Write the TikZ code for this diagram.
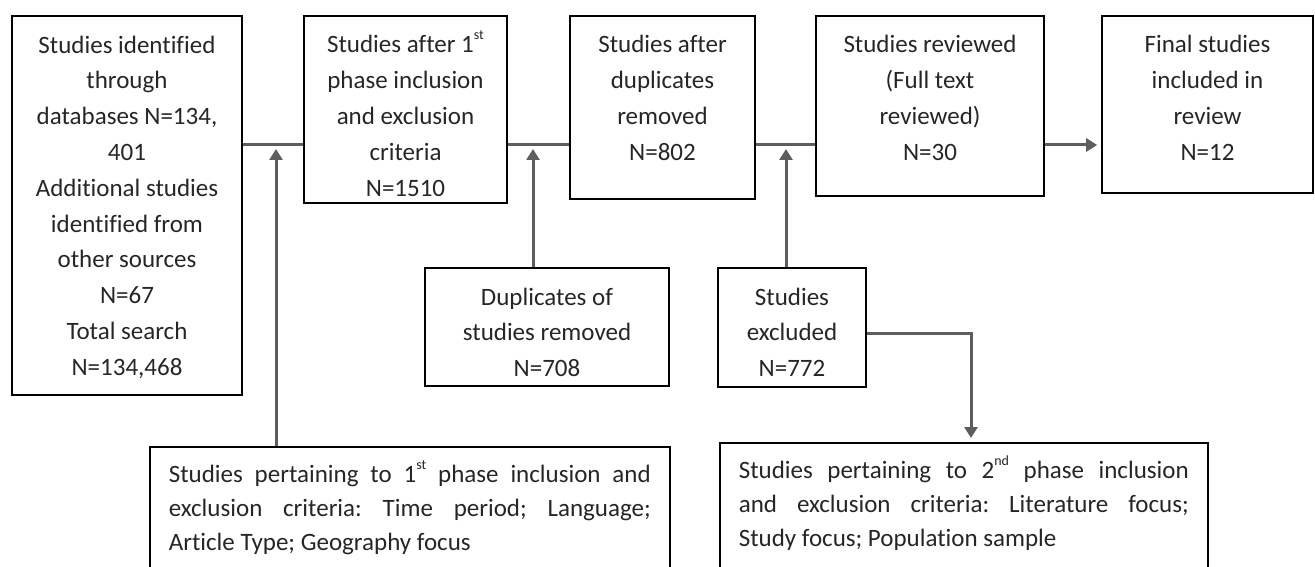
\documentclass[tikz,border=0pt]{standalone}
\usepackage{fontspec}
\setmainfont{Carlito}[Ligatures=NoCommon]
\usetikzlibrary{arrows.meta}
\frenchspacing
\definecolor{linegray}{HTML}{5E5E5E}
\definecolor{textgray}{HTML}{262626}
\newcommand{\toptext}[3]{\parbox[c][#2][t]{#1}{\centering\rule{0pt}{37pt}#3}}
\newcommand{\lowtext}[3]{\parbox[c][#2][t]{#1}{\fontsize{25}{34}\selectfont\rule{0pt}{36pt}#3\par}}
\newcommand{\ord}[1]{\raisebox{0.55em}{\fontsize{14}{14}\selectfont #1}}

\begin{document}
\begin{tikzpicture}[x=1pt, y=-1pt,
	box/.style={draw=black, line width=1.6pt, inner sep=0pt, text=textgray, font=\fontsize{25}{35.8}\selectfont},
	link/.style={draw=linegray, line width=3pt},
	arr/.style={link, -{Triangle[length=11pt, width=13pt]}, shorten >=4pt}]
			%%%%% START %%%%%
			
			\useasboundingbox (0,0) rectangle (1315,567);
			\clip (0,0) rectangle (1315,567);
			
			\node[box] (search) at (127,205.5) {\toptext{230pt}{379pt}{Studies identified\\through\\databases N=134,\\401\\Additional studies\\identified from\\other sources\\N=67\\Total search\\N=134,468}};
			\node[box] (phase1) at (405.5,109.5) {\toptext{203pt}{187pt}{Studies after 1\ord{st}\\phase inclusion\\and exclusion\\criteria\\N=1510}};
			\node[box] (dedup) at (662.5,107.5) {\toptext{185pt}{183pt}{Studies after\\duplicates\\removed\\N=802}};
			\node[box] (fulltext) at (930,106) {\toptext{228pt}{180pt}{Studies reviewed\\(Full text\\reviewed)\\N=30}};
			\node[box] (final) at (1207.5,104.5) {\toptext{211pt}{177pt}{Final studies\\included in\\review\\N=12}};
			
			\node[box] (dupes) at (547,327) {\toptext{244pt}{118pt}{Duplicates of\\studies removed\\N=708}};
			\node[box] (excluded) at (792,327.5) {\toptext{148pt}{119pt}{Studies\\excluded\\N=772}};
			
			\node[box, anchor=north west, inner xsep=19pt] (crit1) at (149,446) {\lowtext{482pt}{150pt}{Studies pertaining to 1\ord{st} phase inclusion and\linebreak exclusion criteria: Time period; Language;\linebreak Article Type; Geography focus}};
			\node[box, anchor=north west, inner xsep=19pt] (crit2) at (719,442) {\lowtext{450pt}{150pt}{Studies pertaining to 2\ord{nd} phase inclusion\linebreak and exclusion criteria: Literature focus;\linebreak Study focus; Population sample}};
			
			\coordinate (j1) at (276,145);
			\coordinate (j2) at (533,145);
			\coordinate (j3) at (786,145);
			\coordinate (elbow) at (971,333);
			
			\draw[link] (search.east |- j1) -- (phase1.west |- j1);
			\draw[link] (phase1.east |- j2) -- (dedup.west |- j2);
			\draw[link] (dedup.east |- j3) -- (fulltext.west |- j3);
			\draw[arr] (fulltext.east |- j3) -- (final.west |- j3);
			
			\draw[arr] (crit1.north -| j1) -- (j1);
			\draw[arr] (dupes.north -| j2) -- (j2);
			\draw[arr] (excluded.north -| j3) -- (j3);
			\draw[arr] (excluded.east |- elbow) -| (crit2.north -| elbow);
			
			%%%%% END %%%%%
\end{tikzpicture}
\end{document}
